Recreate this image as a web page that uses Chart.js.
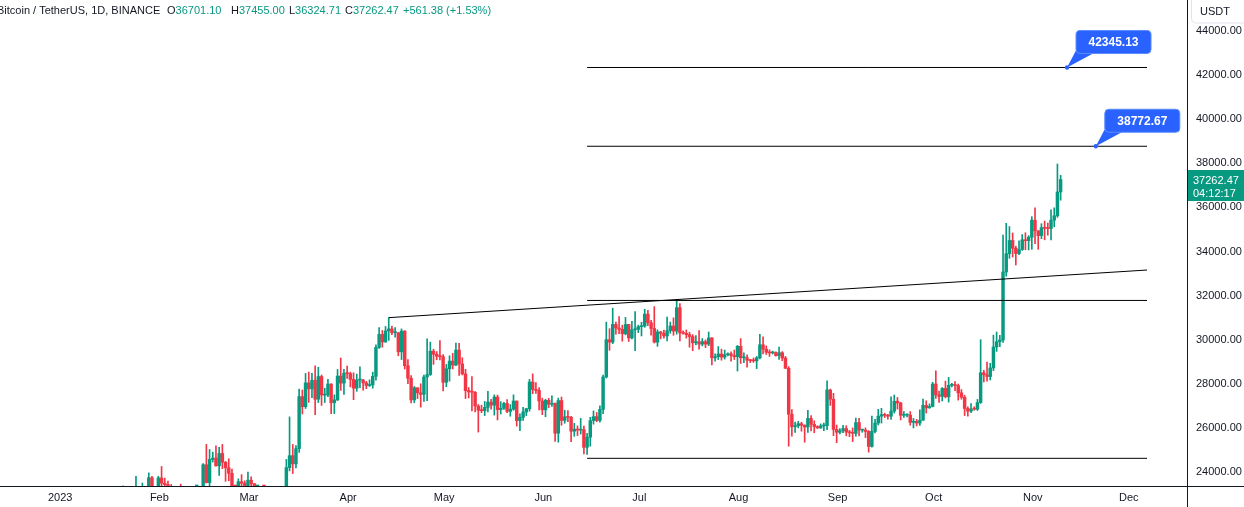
<!DOCTYPE html>
<html>
<head>
<meta charset="utf-8">
<script src="https://cdn.jsdelivr.net/npm/chart.js@4.4.0/dist/chart.umd.min.js"></script>
<style>
    html, body { margin: 0; padding: 0; background: #ffffff; }
    #wrap { position: relative; width: 1244px; height: 507px; }
</style>
</head>
<body>
<div id="wrap"><canvas id="myChart"></canvas></div>
<script>
// visible date range of the time axis, one category per day
var axisStart = "2022-12-14";
var axisDays = 371;
var candleStart = "2023-01-18";

// daily OHLC, BTC/USDT (Jan 18 .. Nov 10)
var opens = [
    21180, 20680, 21070, 22670, 22780, 22710, 22920, 22630, 23060, 23010, 23080, 23030, 23740, 22830,
    23125, 23730, 23490, 23430, 23330, 22930, 22760, 23250, 22960, 21800, 21630, 21860, 21780, 21780, 22200, 24330, 23520, 24570, 24630, 24280, 24840, 24440, 24190, 23940, 23180, 23150, 23560, 23490,
    23140, 23630, 23470, 22350, 22350, 22430, 22410, 22200, 21700, 20360, 20190, 20630, 22160, 24200, 24740, 24370, 25060, 27420, 26960, 28040, 27770, 28160, 27300, 28330, 27490, 27490, 27990, 27140, 27270, 28350, 28030,
    28480, 28460, 28200, 27800, 28170, 28170, 28040, 27920, 27950, 28340, 29650, 30240, 29900, 30400, 30490, 30320, 30320, 29450, 30390, 28820, 28250, 27270, 27820, 27590, 27520, 28310, 28420, 29480, 29340, 29250,
    29230, 28070, 28680, 29030, 28850, 29530, 28900, 28450, 27690, 27630, 27620, 26990, 26800, 26780, 26930, 27170, 27030, 27400, 26830, 26890, 27110, 26750, 26850, 27220, 26330, 26480, 26720, 26870, 28080, 27740, 27700,
    27220, 26820, 27250, 27070, 27120, 25760, 27240, 26340, 26500, 26480, 25850, 25940, 25900, 25920, 25120, 25580, 26330, 26510, 26340, 26840, 28310, 30000, 29890, 30690, 30530, 30470, 30270, 30690, 30080, 30450,
    30470, 30590, 30620, 31160, 30770, 30510, 29890, 30350, 30290, 30170, 30410, 30620, 30390, 31450, 30310, 30290, 30230, 30140, 29860, 29910, 29800, 29910, 29800, 30080, 29180, 29230, 29350, 29210, 29320, 29360, 29280,
    29230, 29700, 29180, 29180, 29070, 29050, 29040, 29180, 29770, 29570, 29430, 29400, 29420, 29280, 29410, 29170, 28700, 26620, 26050, 26100, 26190, 26120, 26040, 26430, 26160, 26060, 26000, 26090, 26100, 27720, 27300,
    25930, 25800, 25870, 25970, 25810, 25780, 25750, 26240, 25900, 25900, 25840, 25160, 25840, 26220, 26530, 26600, 26570, 26530, 26760, 27210, 27130, 26570, 26580, 26580, 26250, 26300, 26220, 26350, 27020, 26910,
    26970, 27990, 27500, 27430, 27790, 27410, 27930, 27950, 27920, 27590, 27390, 26880, 26760, 26860, 26850, 27150, 28500, 28410, 28330, 28720, 29670, 29910, 29990, 33070, 33900, 34500, 34150, 33910, 34090, 34530, 34490,
    34650, 35420, 34940, 34720, 35080, 35050, 35040, 35420, 35620, 36701.10
];
var highs = [
    21650, 21190, 22750, 23370, 23080, 23170, 23150, 23800, 23280, 23500, 23180, 23960, 23800, 23320,
    23810, 24250, 23720, 23590, 23430, 23160, 23350, 23450, 23010, 21940, 21910, 22090, 21890, 22320, 24380, 25250, 25020, 24900, 25190, 25120, 25250, 24480, 24600, 24130, 23220, 23690, 23880, 23600,
    24000, 23780, 23480, 22420, 22610, 22600, 22540, 22270, 21840, 20370, 20850, 22190, 24570, 26500, 25250, 25200, 27760, 27720, 28470, 28530, 28470, 28820, 28750, 28400, 27800, 28200, 28000, 27500, 28650, 29170, 28660,
    28800, 28530, 28500, 28440, 28770, 28200, 28110, 28180, 28530, 29770, 30550, 30420, 30600, 31000, 30620, 30550, 30320, 30490, 30410, 29100, 28370, 27880, 27820, 28000, 28400, 30040, 29890, 29570, 29460, 29960,
    29330, 28880, 29270, 29380, 29850, 29830, 29180, 28660, 27830, 28330, 27650, 27060, 27030, 27200, 27660, 27300, 27500, 27490, 27190, 27160, 27280, 27060, 27500, 27220, 26640, 26930, 26890, 28200, 28450, 28050, 27830,
    27350, 27300, 27340, 27460, 27130, 27350, 27400, 26800, 26780, 26530, 26210, 26090, 26430, 26080, 25750, 26480, 26770, 26700, 27000, 28400, 30800, 30500, 31430, 30800, 31050, 30660, 31010, 30700, 30830, 31280,
    30660, 30790, 31380, 31330, 30880, 31500, 30450, 30380, 30440, 31030, 30800, 30990, 31800, 31640, 30400, 30440, 30340, 30230, 30190, 30410, 30050, 29990, 30350, 30100, 29360, 29690, 29570, 29530, 29400, 29450, 29530,
    29740, 30050, 29410, 29310, 29110, 29170, 29240, 30240, 30130, 29720, 29540, 29480, 29450, 29660, 29460, 29240, 28780, 26830, 26260, 26300, 26260, 26140, 26800, 26560, 26320, 26100, 26180, 26220, 28140, 27760, 27570,
    26130, 25970, 26120, 26100, 25890, 26000, 26440, 26430, 25940, 26000, 25880, 26540, 26390, 26840, 26890, 26670, 26620, 27410, 27490, 27380, 27160, 26740, 26640, 26740, 26430, 26390, 26820, 27310, 27230, 27090,
    28070, 28590, 27670, 27830, 28120, 28290, 28020, 28100, 27990, 27740, 27480, 26950, 27100, 26960, 27290, 30000, 28610, 28980, 28930, 30210, 30350, 30200, 34740, 35280, 35130, 34840, 34240, 34480, 34770, 34850, 34720,
    35580, 35980, 34940, 35260, 35380, 35290, 35890, 35980, 37970, 37455.00
];
var lows = [
    20400, 20660, 20870, 22420, 22290, 22510, 22400, 22300, 22850, 22530, 22880, 22980, 22550, 22710,
    22760, 23360, 23200, 23240, 22740, 22630, 22750, 22680, 21690, 21450, 21600, 21630, 21350, 21530, 22050, 23500, 23340, 24450, 24260, 23850, 24150, 23580, 23600, 22860, 22720, 23080, 23100, 23020,
    23020, 23200, 21970, 22090, 22200, 22270, 21930, 21580, 20040, 19550, 19880, 20290, 21900, 24050, 23930, 24180, 24890, 26630, 26880, 27160, 27370, 26600, 27150, 27020, 27150, 27420, 26640, 26650, 27240, 27700, 27520,
    28240, 27860, 27280, 27660, 27830, 27710, 27780, 27880, 27800, 28170, 29600, 29660, 29880, 29970, 30230, 30120, 29270, 29100, 28670, 28010, 27130, 27140, 27330, 26940, 27200, 27240, 28380, 28880, 29090, 29080,
    27680, 27870, 28120, 28670, 28820, 28380, 28400, 27330, 27360, 26770, 26730, 25810, 26690, 26560, 26720, 26850, 26580, 26360, 26630, 26840, 26690, 26530, 26800, 26080, 25870, 26340, 26560, 26760, 27550, 27560, 26820,
    26600, 26510, 26920, 26970, 25390, 25350, 26120, 26210, 26280, 25380, 25620, 25650, 25720, 24820, 24800, 25170, 26170, 26280, 26260, 26650, 28260, 29520, 29820, 30250, 30270, 29930, 30220, 29920, 30040, 29500,
    30320, 30170, 30560, 30640, 30200, 29850, 29700, 30040, 30070, 29950, 30290, 30200, 30250, 29940, 30250, 30070, 29660, 29500, 29760, 29570, 29720, 29640, 29730, 28860, 29030, 29100, 29070, 29120, 29260, 29030, 29100,
    28580, 28920, 28960, 28750, 28960, 28970, 28690, 29130, 29350, 29330, 29240, 29350, 29250, 29100, 29050, 28700, 25170, 25620, 25800, 26000, 25850, 25350, 25800, 25860, 25780, 25970, 25980, 25870, 25920, 27020, 25650,
    25330, 25730, 25780, 25640, 25600, 25380, 25620, 25640, 25800, 25560, 24900, 25130, 25770, 26130, 26220, 26470, 26400, 26380, 26670, 26850, 26360, 26470, 26500, 26120, 26000, 26090, 26110, 26340, 26670, 26890,
    26950, 27340, 27160, 27220, 27360, 27170, 27860, 27690, 27260, 27300, 26560, 26530, 26690, 26800, 26790, 27110, 28080, 28120, 28170, 28600, 29470, 29680, 29880, 32880, 33690, 33750, 33390, 33860, 34050, 34080, 34070,
    34100, 34350, 34100, 34580, 34530, 34740, 34520, 35120, 35550, 36324.71
];
var closes = [
    20680, 21070, 22670, 22780, 22710, 22920, 22630, 23060, 23010, 23080, 23030, 23740, 22830, 23125,
    23730, 23490, 23430, 23330, 22930, 22760, 23250, 22960, 21800, 21630, 21860, 21780, 21780, 22200, 24330, 23520, 24570, 24630, 24280, 24840, 24440, 24190, 23940, 23180, 23150, 23560, 23490, 23140,
    23630, 23470, 22350, 22350, 22430, 22410, 22200, 21700, 20360, 20190, 20630, 22160, 24200, 24740, 24370, 25060, 27420, 26960, 28040, 27770, 28160, 27300, 28330, 27490, 27490, 27990, 27140, 27270, 28350, 28030, 28480,
    28460, 28200, 27800, 28170, 28170, 28040, 27920, 27950, 28340, 29650, 30240, 29900, 30400, 30490, 30320, 30320, 29450, 30390, 28820, 28250, 27270, 27820, 27590, 27520, 28310, 28420, 29480, 29340, 29250, 29230,
    28070, 28680, 29030, 28850, 29530, 28900, 28450, 27690, 27630, 27620, 26990, 26800, 26780, 26930, 27170, 27030, 27400, 26830, 26890, 27110, 26750, 26850, 27220, 26330, 26480, 26720, 26870, 28080, 27740, 27700, 27220,
    26820, 27250, 27070, 27120, 25760, 27240, 26340, 26500, 26480, 25850, 25940, 25900, 25920, 25120, 25580, 26330, 26510, 26340, 26840, 28310, 30000, 29890, 30690, 30530, 30470, 30270, 30690, 30080, 30450, 30470,
    30590, 30620, 31160, 30770, 30510, 29890, 30350, 30290, 30170, 30410, 30620, 30390, 31450, 30310, 30290, 30230, 30140, 29860, 29910, 29800, 29910, 29800, 30080, 29180, 29230, 29350, 29210, 29320, 29360, 29280, 29230,
    29700, 29180, 29180, 29070, 29050, 29040, 29180, 29770, 29570, 29430, 29400, 29420, 29280, 29410, 29170, 28700, 26620, 26050, 26100, 26190, 26120, 26040, 26430, 26160, 26060, 26000, 26090, 26100, 27720, 27300, 25930,
    25800, 25870, 25970, 25810, 25780, 25750, 26240, 25900, 25900, 25840, 25160, 25840, 26220, 26530, 26600, 26570, 26530, 26760, 27210, 27130, 26570, 26580, 26580, 26250, 26300, 26220, 26350, 27020, 26910, 26970,
    27990, 27500, 27430, 27790, 27410, 27930, 27950, 27920, 27590, 27390, 26880, 26760, 26860, 26850, 27150, 28500, 28410, 28330, 28720, 29670, 29910, 29990, 33070, 33900, 34500, 34150, 33910, 34090, 34530, 34490, 34650,
    35420, 34940, 34720, 35080, 35050, 35040, 35420, 35620, 36700, 37262.47
];

// drawn levels: [start date, start price, end date, end price]
var trendLine = ["2023-04-14", 31000, "2023-12-07", 33160];
var levelStart = "2023-06-15";
var levelEnd = "2023-12-07";
var levels = [42345.13, 38772.67, 31780, 24620];
var calloutValues = [42345.13, 38772.67];
var calloutDates = ["2023-11-12", "2023-11-21"];

// axis
var priceTicks = [24000, 26000, 28000, 30000, 32000, 34000, 36000, 38000, 40000, 42000, 44000];
var priceMin = 23365;
var priceMax = 45406;
var monthLabels = ["2023", "Feb", "Mar", "Apr", "May", "Jun", "Jul", "Aug", "Sep", "Oct", "Nov", "Dec"];

var GREEN = "#089981";
var RED = "#f23645";
var TEXT = "#131722";
var FONT = "'Liberation Sans', Arial, sans-serif";

function dayStr(d) {
    return d.toISOString().slice(0, 10);
}

var labels = [];
var base = new Date(axisStart + "T00:00:00Z");
for (var i = 0; i < axisDays; i++) {
    labels.push(dayStr(new Date(base.getTime() + i * 86400000)));
}

var first = labels.indexOf(candleStart);
var wicks = [], bodies = [], colors = [];
for (var i = 0; i < axisDays; i++) {
    wicks.push(null);
    bodies.push(null);
    colors.push(GREEN);
}
for (var k = 0; k < closes.length; k++) {
    var idx = first + k;
    wicks[idx] = [lows[k], highs[k]];
    bodies[idx] = [opens[k], closes[k]];
    colors[idx] = closes[k] >= opens[k] ? GREEN : RED;
}

function segment(d1, v1, d2, v2) {
    var arr = labels.map(function () { return null; });
    arr[labels.indexOf(d1)] = v1;
    arr[labels.indexOf(d2)] = v2;
    return arr;
}

var lineSets = [];
lineSets.push(segment(trendLine[0], trendLine[1], trendLine[2], trendLine[3]));
levels.forEach(function (v) {
    lineSets.push(segment(levelStart, v, levelEnd, v));
});

var datasets = lineSets.map(function (arr) {
    return {
        type: "line",
        data: arr,
        spanGaps: true,
        borderColor: "#000000",
        borderWidth: 1,
        pointRadius: 0,
        tension: 0,
        order: 0,
        clip: 0
    };
});
datasets.push({
    type: "bar",
    data: bodies,
    backgroundColor: colors,
    barThickness: 2.8,
    minBarLength: 1,
    grouped: false,
    borderWidth: 0,
    order: 1,
    clip: 0
});
datasets.push({
    type: "bar",
    data: wicks,
    backgroundColor: colors,
    barThickness: 1,
    grouped: false,
    borderWidth: 0,
    order: 2,
    clip: 0
});

function roundBox(ctx, x, y, w, h, r) {
    ctx.beginPath();
    ctx.moveTo(x + r, y);
    ctx.lineTo(x + w - r, y);
    ctx.quadraticCurveTo(x + w, y, x + w, y + r);
    ctx.lineTo(x + w, y + h - r);
    ctx.quadraticCurveTo(x + w, y + h, x + w - r, y + h);
    ctx.lineTo(x + r, y + h);
    ctx.quadraticCurveTo(x, y + h, x, y + h - r);
    ctx.lineTo(x, y + r);
    ctx.quadraticCurveTo(x, y, x + r, y);
    ctx.closePath();
}

var overlay = {
    id: "overlay",
    afterDraw: function (chart) {
        var ctx = chart.ctx;
        var area = chart.chartArea;
        var xs = chart.scales.x, ys = chart.scales.y;
        ctx.save();

        // pane borders
        ctx.strokeStyle = TEXT;
        ctx.lineWidth = 1;
        ctx.beginPath();
        ctx.moveTo(Math.round(area.right) + 0.5, 0);
        ctx.lineTo(Math.round(area.right) + 0.5, chart.height);
        ctx.moveTo(0, Math.round(area.bottom) + 0.5);
        ctx.lineTo(chart.width, Math.round(area.bottom) + 0.5);
        ctx.stroke();

        // callouts
        calloutValues.forEach(function (v, n) {
            var tx = xs.getPixelForValue(labels.indexOf(calloutDates[n]));
            var ty = ys.getPixelForValue(v);
            var bx = tx + 9, by = ty - 37, bw = 75, bh = 23;
            ctx.fillStyle = "#2962ff";
            ctx.beginPath();
            ctx.moveTo(tx, ty);
            ctx.lineTo(bx + 1, by + bh - 5);
            ctx.lineTo(bx + 17, by + bh);
            ctx.closePath();
            ctx.fill();
            roundBox(ctx, bx, by, bw, bh, 4);
            ctx.fill();
            ctx.strokeStyle = "#5b8cff";
            ctx.stroke();
            ctx.beginPath();
            ctx.arc(tx, ty, 2.2, 0, Math.PI * 2);
            ctx.fill();
            ctx.fillStyle = "#ffffff";
            ctx.font = "bold 12px " + FONT;
            ctx.textAlign = "center";
            ctx.textBaseline = "middle";
            ctx.fillText(v.toFixed(2), bx + bw / 2, by + bh / 2 + 1);
        });

        // last price label
        var last = closes[closes.length - 1];
        var py = ys.getPixelForValue(last);
        ctx.fillStyle = GREEN;
        ctx.fillRect(Math.round(area.right) + 1, Math.round(py) - 10, 60, 31);
        ctx.fillStyle = "#ffffff";
        ctx.font = "11px " + FONT;
        ctx.textAlign = "left";
        ctx.textBaseline = "middle";
        ctx.fillText(last.toFixed(2), 1193, py + 1);
        ctx.fillText("04:12:17", 1193, py + 14);

        // currency box
        roundBox(ctx, 1191.5, -6, 60, 29, 5);
        ctx.fillStyle = "#ffffff";
        ctx.fill();
        ctx.strokeStyle = "#e0e3eb";
        ctx.stroke();
        ctx.fillStyle = TEXT;
        ctx.font = "11px " + FONT;
        ctx.fillText("USDT", 1200, 12);

        // legend line
        var o = opens[opens.length - 1], h = highs[highs.length - 1];
        var l = lows[lows.length - 1], c = last;
        var parts = [
            [-3, "Bitcoin / TetherUS, 1D, BINANCE", TEXT],
            [167, "O", TEXT], [null, o.toFixed(2), GREEN],
            [231, "H", TEXT], [null, h.toFixed(2), GREEN],
            [289, "L", TEXT], [null, l.toFixed(2), GREEN],
            [345, "C", TEXT], [null, c.toFixed(2), GREEN],
            [403, "+561.38 (+1.53%)", GREEN]
        ];
        ctx.font = "11px " + FONT;
        var cx = 0;
        parts.forEach(function (p) {
            if (p[0] !== null) cx = p[0];
            ctx.fillStyle = p[2];
            ctx.fillText(p[1], cx, 11);
            cx += ctx.measureText(p[1]).width;
        });

        ctx.restore();
    }
};

Chart.defaults.font.family = FONT;

var ctx = document.getElementById("myChart").getContext("2d");
var myChart = new Chart(ctx, {
    type: "bar",
    data: {
        labels: labels,
        datasets: datasets
    },
    options: {
        responsive: true,
        maintainAspectRatio: false,
        animation: false,
        devicePixelRatio: 1,
        layout: { padding: 0 },
        scales: {
            x: {
                grid: { display: false, drawTicks: false },
                border: { display: false },
                ticks: {
                    autoSkip: false,
                    maxRotation: 0,
                    minRotation: 0,
                    padding: 5,
                    labelOffset: 1,
                    color: TEXT,
                    font: { size: 11 },
                    callback: function (value) {
                        var d = labels[value];
                        if (d.slice(8) !== "01" || d.slice(0, 4) !== "2023") return "";
                        return monthLabels[parseInt(d.slice(5, 7), 10) - 1];
                    }
                },
                afterFit: function (scale) {
                    scale.height = 21;
                    scale.paddingLeft = 0;
                    scale.paddingRight = 0;
                }
            },
            y: {
                position: "right",
                min: priceMin,
                max: priceMax,
                grid: { display: false, drawTicks: false },
                border: { display: false },
                ticks: {
                    padding: 9,
                    color: TEXT,
                    font: { size: 11 },
                    callback: function (value) {
                        return value.toFixed(2);
                    }
                },
                afterBuildTicks: function (scale) {
                    scale.ticks = priceTicks.map(function (v) { return { value: v }; });
                },
                afterFit: function (scale) {
                    scale.width = 57;
                    scale.paddingTop = 0;
                    scale.paddingBottom = 0;
                }
            }
        },
        plugins: {
            legend: { display: false },
            tooltip: { enabled: false },
            title: { display: false }
        }
    },
    plugins: [overlay]
});
</script>
</body>
</html>
